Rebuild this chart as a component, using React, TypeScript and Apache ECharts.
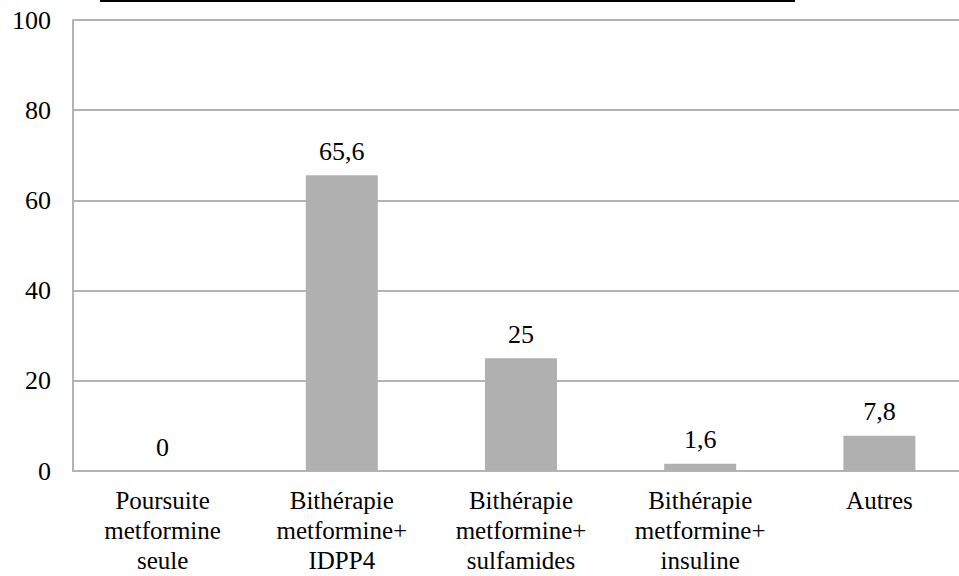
import React, { useEffect, useRef } from "react";
import * as echarts from "echarts";

const categories = [
  "Poursuite\nmetformine\nseule",
  "Bithérapie\nmetformine+\nIDPP4",
  "Bithérapie\nmetformine+\nsulfamides",
  "Bithérapie\nmetformine+\ninsuline",
  "Autres",
];
const values = [0, 65.6, 25, 1.6, 7.8];
const yTicks = { min: 0, max: 100, interval: 20 };

export default function App() {
  const ref = useRef<HTMLDivElement>(null);
  useEffect(() => {
    const chart = echarts.init(ref.current!, undefined, { renderer: "svg" });
    const font = "Liberation Serif";
    chart.setOption({
      animation: false,
      textStyle: { fontFamily: font },
      grid: {
        left: 73,
        top: 20,
        right: 6,
        bottom: 105,
        containLabel: false,
        outerBoundsMode: "none",
      },
      graphic: [
        {
          type: "line",
          shape: { x1: 100, y1: 1, x2: 795, y2: 1 },
          style: { stroke: "#000", lineWidth: 2 },
        },
      ],
      xAxis: {
        type: "category",
        data: categories,
        axisLine: { show: true, lineStyle: { color: "#b3b3b3", width: 2 } },
        axisTick: { show: false },
        axisLabel: {
          color: "#000",
          fontFamily: font,
          fontSize: 25,
          lineHeight: 30,
          margin: 14,
          interval: 0,
        },
      },
      yAxis: {
        type: "value",
        min: yTicks.min,
        max: yTicks.max,
        interval: yTicks.interval,
        axisLine: { show: true, lineStyle: { color: "#b3b3b3", width: 2 } },
        axisTick: { show: false },
        splitLine: { show: true, lineStyle: { color: "#b3b3b3", width: 2 } },
        axisLabel: {
          color: "#000",
          fontFamily: font,
          fontSize: 26,
          margin: 22,
        },
      },
      series: [
        {
          type: "bar",
          data: values,
          barWidth: 72,
          itemStyle: { color: "#b0b0b0" },
          label: {
            show: true,
            position: "top",
            distance: 11,
            color: "#000",
            fontFamily: font,
            fontSize: 26,
            formatter: (p: any) => String(p.value).replace(".", ","),
          },
        },
      ],
    });
    return () => chart.dispose();
  }, []);
  return (
    <div style={{ width: 959, height: 576, position: "absolute", left: 0, top: 0, overflow: "hidden" }}>
      <div ref={ref} style={{ width: 975, height: 576 }} />
    </div>
  );
}
